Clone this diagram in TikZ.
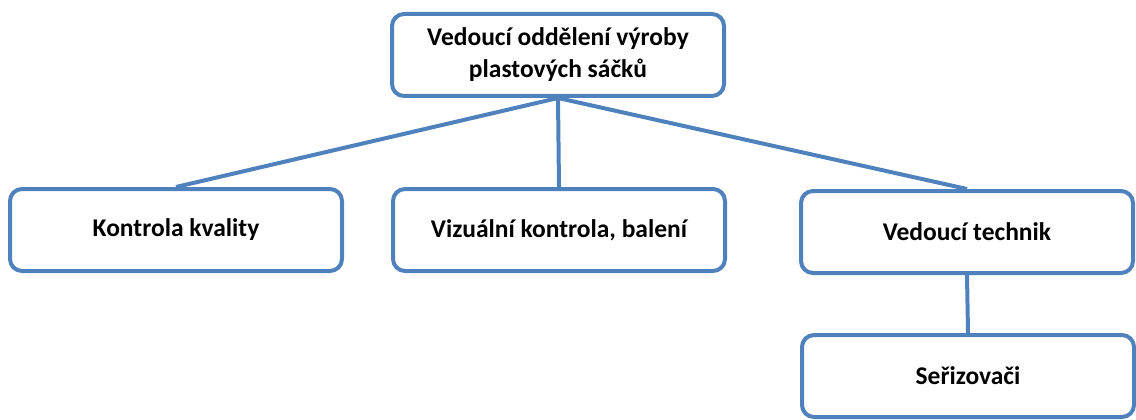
\documentclass[tikz,border=0pt]{standalone}
\usepackage{fontspec}
\setmainfont{Carlito}
\usetikzlibrary{calc}

\definecolor{orgblue}{RGB}{79,129,189}
\tikzset{
  orgbox/.style={draw=orgblue,line width=4pt,rounded corners=12pt,fill=white,
    minimum width=332pt,minimum height=82pt,align=center,
    font=\bfseries\fontsize{25.5}{32}\selectfont},
  orgline/.style={draw=orgblue,line width=4pt}
}

\begin{document}
\begin{tikzpicture}[x=1pt,y=-1pt]
              \useasboundingbox (0,0) rectangle (1136,420);
              \coordinate (V) at (558,55);
              \coordinate (K) at (176,230);
              \coordinate (Z) at (559,230);
              \coordinate (T) at (967,232);
              \coordinate (S) at (968,376);
              \node[orgbox] (vedouci) at (V) {Vedoucí oddělení výroby\\plastových sáčků};
              \node[orgbox] (kontrola) at (K) {Kontrola kvality};
              \node[orgbox] (vizualni) at (Z) {Vizuální kontrola, balení};
              \node[orgbox] (technik) at (T) {Vedoucí technik};
              \node[orgbox] (serizovaci) at (S) {Seřizovači};
              % connectors
              \draw[orgline] (vedouci.south) -- (kontrola.north);
              \draw[orgline] (vedouci.south) -- (vizualni.north);
              \draw[orgline] (vedouci.south) -- (technik.north);
              \draw[orgline] (technik.south) -- (serizovaci.north);
\end{tikzpicture}
\end{document}
